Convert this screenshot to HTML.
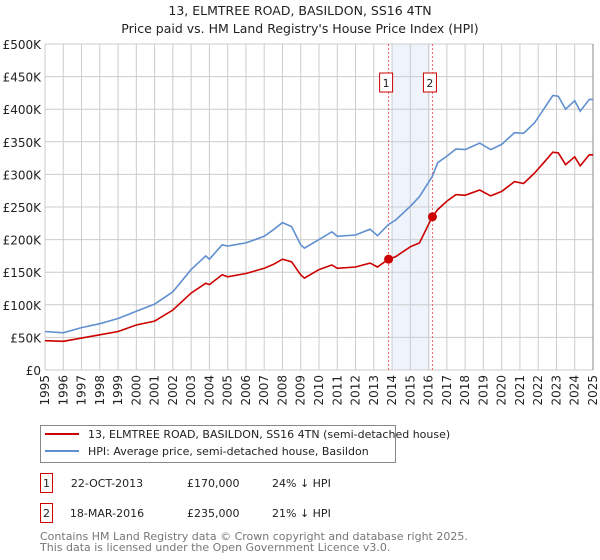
<!DOCTYPE html>
<html><head><meta charset="utf-8"><style>
body{margin:0;background:#fff;font-family:"Liberation Sans","DejaVu Sans",sans-serif;}
#wrap{position:relative;width:600px;height:560px;overflow:hidden;}
svg text{font-family:"DejaVu Sans","Liberation Sans",sans-serif;}
</style></head><body>
<div id="wrap">
<svg id="chart" width="600" height="560"></svg>
</div>
<script>
const years=[1995,1996,1997,1998,1999,2000,2001,2002,2003,2003.8,2004,2004.7,2005,2006,2007,2007.5,2008,2008.5,2009,2009.2,2010,2010.7,2011,2012,2012.8,2013.2,2013.8,2014.2,2015,2015.5,2016.2,2016.5,2017,2017.5,2018,2018.8,2019.4,2020,2020.7,2021.2,2021.8,2022.3,2022.8,2023.1,2023.5,2024,2024.3,2024.8,2025];
const hpiValues=[59,57,65,71,79,90,101,120,154,175,170,192,190,195,205,215,226,220,192,187,200,212,205,207,216,206,223,230,251,266,297,318,328,339,338,348,338,346,364,363,379,400,421,420,400,413,397,415,415];
const priceValues=[45,44,49,54,59,69,75,92,118,133,131,146,143,148,156,162,170,166,146,141,154,161,156,158,164,158,170,174,189,195,235,246,259,269,268,276,267,274,289,286,302,318,334,333,315,327,313,330,330];
const saleDates=[2013.81,2016.21];
const salePrices=[170,235];
const saleLabels=["1","2"];
const yTicks=[0,50,100,150,200,250,300,350,400,450,500];
const yTickLabels=["£0","£50K","£100K","£150K","£200K","£250K","£300K","£350K","£400K","£450K","£500K"];
const xTicks=[1995,1996,1997,1998,1999,2000,2001,2002,2003,2004,2005,2006,2007,2008,2009,2010,2011,2012,2013,2014,2015,2016,2017,2018,2019,2020,2021,2022,2023,2024,2025];

const L=45,R=593,T=44,B=370;
const X=v=>L+(v-1995)/30*(R-L);
const Y=v=>B-v/500*(B-T);
const svg=document.getElementById('chart');
const NS='http://www.w3.org/2000/svg';
function mk(tag,attrs,parent){const e=document.createElementNS(NS,tag);for(const k in attrs)e.setAttribute(k,attrs[k]);(parent||svg).appendChild(e);return e;}

let t=mk('text',{x:300,y:15,'text-anchor':'middle','font-size':'12.5',fill:'#222'});t.textContent='13, ELMTREE ROAD, BASILDON, SS16 4TN';


t=mk('text',{x:300,y:33,'text-anchor':'middle','font-size':'12.5',fill:'#222'});t.textContent="Price paid vs. HM Land Registry's House Price Index (HPI)";



let sh=mk('rect',{x:X(saleDates[0])+4,y:T,width:X(saleDates[1])-X(saleDates[0])-6,height:B-T,fill:'#eef3fc'});



yTicks.forEach((v,i)=>{
 let g=mk('line',{x1:L,x2:R,y1:Y(v),y2:Y(v),stroke:'#ccc','stroke-width':1});
 
 
 let tx=mk('text',{x:L-4,y:Y(v)+5,'text-anchor':'end','font-size':'12',fill:'#222'});tx.textContent=yTickLabels[i];
 
 
});
xTicks.forEach(v=>{
 let g=mk('line',{x1:X(v),x2:X(v),y1:T,y2:B,stroke:'#ccc','stroke-width':1});
 
 
 let tx=mk('text',{x:0,y:0,'text-anchor':'end','font-size':'12',fill:'#222',transform:`translate(${X(v)+4},${B+5}) rotate(-90)`});tx.textContent=v;
 
 
});
let ax=mk('line',{x1:R,x2:R,y1:T,y2:B,stroke:'#888','stroke-width':1});



saleDates.forEach((d,i)=>{
 let l=mk('line',{x1:X(d),x2:X(d),y1:T,y2:B,stroke:'#f06060','stroke-width':1,'stroke-dasharray':'2,2'});
 
 
 let bx=mk('rect',{x:X(d)-9,y:73,width:13,height:19,fill:'#fff',stroke:'#cc0000'});
 
 
 let tx=mk('text',{x:X(d)-2.5,y:87,'text-anchor':'middle','font-size':'11',fill:'#222'});tx.textContent=saleLabels[i];
 
 
});

function path(vals){return years.map((y,i)=>(i?'L':'M')+X(y).toFixed(1)+','+Y(vals[i]).toFixed(1)).join(' ');}
let hp=mk('path',{d:path(hpiValues),fill:'none',stroke:'#6090d0','stroke-width':1.6});


let pp=mk('path',{d:path(priceValues),fill:'none',stroke:'#cc0000','stroke-width':1.6});


saleDates.forEach((d,i)=>{
 let c=mk('circle',{cx:X(d),cy:Y(salePrices[i]),r:4.5,fill:'#cc0000'});
 
 
});

let lg=mk('rect',{x:40.5,y:425.5,width:355,height:37,fill:'#fff',stroke:'#888'});


let l1=mk('line',{x1:45,x2:79,y1:434,y2:434,stroke:'#cc0000','stroke-width':2});


t=mk('text',{x:88,y:438,'font-size':'11',fill:'#222'});t.textContent='13, ELMTREE ROAD, BASILDON, SS16 4TN (semi-detached house)';


let l2=mk('line',{x1:45,x2:79,y1:451,y2:451,stroke:'#6090d0','stroke-width':2});


t=mk('text',{x:88,y:455,'font-size':'11',fill:'#222'});t.textContent='HPI: Average price, semi-detached house, Basildon';



const rowDates=["22-OCT-2013","18-MAR-2016"];
const rowPrices=["£170,000","£235,000"];
const rowHpi=["24% ↓ HPI","21% ↓ HPI"];
[483,513].forEach((ry,i)=>{
 let b=mk('rect',{x:40.5,y:ry-9.5,width:12,height:19,fill:'#fff',stroke:'#cc0000'});
 
 
 let a=mk('text',{x:46.5,y:ry+4,'text-anchor':'middle','font-size':'11',fill:'#222'});a.textContent=saleLabels[i];
 
 
 a=mk('text',{x:107,y:ry+4,'text-anchor':'middle','font-size':'11',fill:'#222'});a.textContent=rowDates[i];
 
 
 a=mk('text',{x:187,y:ry+4,'font-size':'11',fill:'#222'});a.textContent=rowPrices[i];
 
 
 a=mk('text',{x:272,y:ry+4,'font-size':'11',fill:'#222'});a.textContent=rowHpi[i];
 
 
});
t=mk('text',{x:40,y:540,'font-size':'11',fill:'#777'});t.textContent='Contains HM Land Registry data © Crown copyright and database right 2025.';


t=mk('text',{x:40,y:551,'font-size':'11',fill:'#777'});t.textContent='This data is licensed under the Open Government Licence v3.0.';


</script>
</body></html>
